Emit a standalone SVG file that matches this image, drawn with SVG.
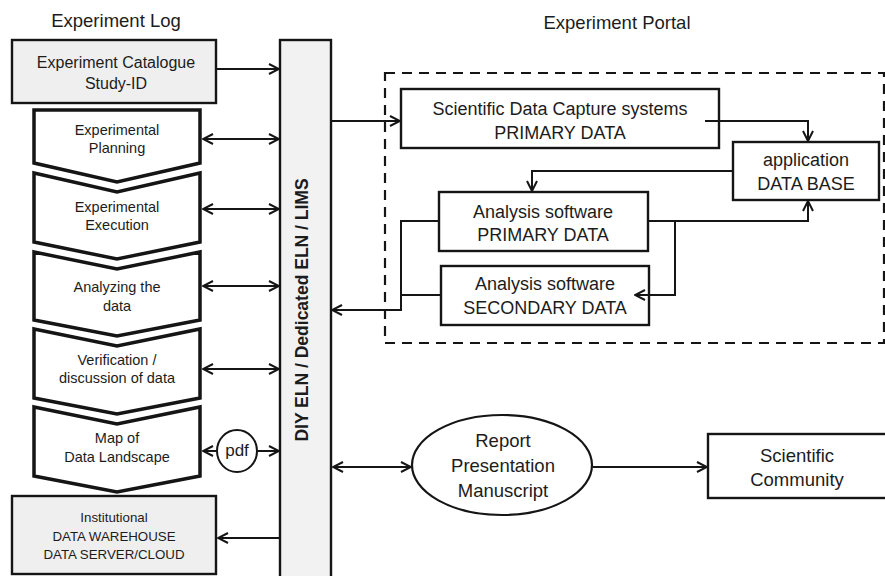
<svg xmlns="http://www.w3.org/2000/svg" width="885" height="576" viewBox="0 0 885 576">
  <style>
    text { font-family: "Liberation Sans", Arial, sans-serif; fill: #1c1c1c; text-anchor: middle; dominant-baseline: central; }
    .title { font-size: 18.5px; }
    .cat { font-size: 16px; }
    .step { font-size: 14.5px; }
    .store { font-size: 13.3px; }
    .big { font-size: 18px; }
    .eln { font-size: 17.5px; font-weight: bold; }
    .box { fill: #ffffff; stroke: #151515; stroke-width: 2.4; }
    .grey { fill: #efefef; stroke: #151515; stroke-width: 2.4; }
    .chev { fill: #ffffff; stroke: #151515; stroke-width: 3.5; stroke-linejoin: miter; }
    .conn { fill: none; stroke: #151515; stroke-width: 2; }
    .dash { fill: none; stroke: #151515; stroke-width: 2.2; stroke-dasharray: 10 7; }
  </style>
  <defs>
    <marker id="head" viewBox="0 0 12 12" refX="11" refY="6" markerWidth="12" markerHeight="12" markerUnits="userSpaceOnUse" orient="auto-start-reverse">
      <path d="M1,1 L11,6 L1,11" fill="none" stroke="#151515" stroke-width="2"/>
    </marker>
  </defs>

  <rect width="885" height="576" fill="#ffffff"/>

  <!-- headings -->
  <text class="title" x="116" y="20">Experiment Log</text>
  <text class="title" x="617" y="22">Experiment Portal</text>

  <!-- experiment portal frame -->
  <rect class="dash" x="385" y="73" width="499" height="270"/>

  <!-- central ELN column -->
  <g id="eln">
    <rect x="280" y="40" width="51" height="540" fill="#f2f2f2" stroke="#151515" stroke-width="2.4"/>
    <text class="eln" transform="translate(302,310) rotate(-90)">DIY ELN / Dedicated ELN / LIMS</text>
  </g>

  <!-- experiment log column -->
  <g id="catalogue">
    <rect class="grey" x="12" y="40" width="204" height="63"/>
    <text class="cat" x="116" y="62">Experiment Catalogue</text>
    <text class="cat" x="116" y="83">Study-ID</text>
  </g>
  <g id="planning">
    <path class="chev" d="M34,110 L200,110 L200,163 L117,182 L34,163 Z"/>
    <text class="step" x="117" y="130">Experimental</text>
    <text class="step" x="117" y="148">Planning</text>
  </g>
  <g id="execution">
    <path class="chev" d="M34,173 L117,192 L200,173 L200,242 L117,259 L34,242 Z"/>
    <text class="step" x="117" y="207">Experimental</text>
    <text class="step" x="117" y="225">Execution</text>
  </g>
  <g id="analyzing">
    <path class="chev" d="M34,252 L117,269 L200,252 L200,320 L117,336 L34,320 Z"/>
    <text class="step" x="117" y="287">Analyzing the</text>
    <text class="step" x="117" y="306">data</text>
  </g>
  <g id="verification">
    <path class="chev" d="M34,329 L117,346 L200,329 L200,398 L117,414 L34,398 Z"/>
    <text class="step" x="117" y="360">Verification /</text>
    <text class="step" x="117" y="378">discussion of data</text>
  </g>
  <g id="map">
    <path class="chev" d="M34,407 L117,424 L200,407 L200,476 L117,492 L34,476 Z"/>
    <text class="step" x="117" y="438">Map of</text>
    <text class="step" x="117" y="457">Data Landscape</text>
  </g>
  <g id="warehouse">
    <rect class="grey" x="12" y="496" width="204" height="78"/>
    <text class="store" x="114" y="517">Institutional</text>
    <text class="store" x="114" y="536">DATA WAREHOUSE</text>
    <text class="store" x="114" y="554">DATA SERVER/CLOUD</text>
  </g>
  <g id="pdf">
    <ellipse cx="237" cy="451" rx="20" ry="21" fill="#ffffff" stroke="#151515" stroke-width="2"/>
    <text class="cat" x="237" y="450" style="font-size:17px">pdf</text>
  </g>

  <!-- portal systems -->
  <g id="capture">
    <rect class="box" x="401" y="89" width="318" height="59"/>
    <text class="big" x="560" y="109">Scientific Data Capture systems</text>
    <text class="big" x="560" y="133">PRIMARY DATA</text>
  </g>
  <g id="database">
    <rect class="box" x="733" y="142" width="146" height="58"/>
    <text class="big" x="806" y="160">application</text>
    <text class="big" x="806" y="184">DATA BASE</text>
  </g>
  <g id="primary">
    <rect class="box" x="439" y="192" width="209" height="59"/>
    <text class="big" x="543" y="212">Analysis software</text>
    <text class="big" x="543" y="235">PRIMARY DATA</text>
  </g>
  <g id="secondary">
    <rect class="box" x="441" y="266" width="208" height="59"/>
    <text class="big" x="545" y="284">Analysis software</text>
    <text class="big" x="545" y="308">SECONDARY DATA</text>
  </g>

  <!-- outputs -->
  <g id="report">
    <ellipse cx="502" cy="465" rx="90" ry="50" fill="#ffffff" stroke="#151515" stroke-width="2.2"/>
    <text class="big" x="503" y="440" style="font-size:18.5px">Report</text>
    <text class="big" x="503" y="465" style="font-size:18.5px">Presentation</text>
    <text class="big" x="503" y="490" style="font-size:18.5px">Manuscript</text>
  </g>
  <g id="community">
    <rect class="box" x="708" y="434" width="182" height="64"/>
    <text class="big" x="797" y="455" style="font-size:18.5px">Scientific</text>
    <text class="big" x="797" y="479" style="font-size:18.5px">Community</text>
  </g>

  <!-- connectors -->
  <g id="connectors">
    <line class="conn" x1="216" y1="69" x2="279" y2="69" marker-end="url(#head)"/>
    <line class="conn" x1="203" y1="139" x2="279" y2="139" marker-start="url(#head)" marker-end="url(#head)"/>
    <line class="conn" x1="203" y1="209" x2="279" y2="209" marker-start="url(#head)" marker-end="url(#head)"/>
    <line class="conn" x1="203" y1="286" x2="279" y2="286" marker-start="url(#head)" marker-end="url(#head)"/>
    <line class="conn" x1="203" y1="369" x2="279" y2="369" marker-start="url(#head)" marker-end="url(#head)"/>
    <line class="conn" x1="217" y1="451" x2="203" y2="451" marker-end="url(#head)"/>
    <line class="conn" x1="257" y1="451" x2="279" y2="451" marker-end="url(#head)"/>
    <line class="conn" x1="280" y1="538" x2="218" y2="538" marker-end="url(#head)"/>
    <line class="conn" x1="331" y1="121" x2="400" y2="121" marker-end="url(#head)"/>
    <polyline class="conn" points="705,121 808,121 808,141" marker-end="url(#head)"/>
    <polyline class="conn" points="733,171 532,171 532,191" marker-end="url(#head)"/>
    <polyline class="conn" points="648,221 808,221 808,201" marker-end="url(#head)"/>
    <polyline class="conn" points="675,221 675,295 635,295" marker-end="url(#head)"/>
    <polyline class="conn" points="439,221 401,221 401,310 332,310" marker-end="url(#head)"/>
    <line class="conn" x1="441" y1="295" x2="401" y2="295"/>
    <line class="conn" x1="333" y1="467" x2="411" y2="467" marker-start="url(#head)" marker-end="url(#head)"/>
    <line class="conn" x1="593" y1="467" x2="707" y2="467" marker-end="url(#head)"/>
  </g>
</svg>
